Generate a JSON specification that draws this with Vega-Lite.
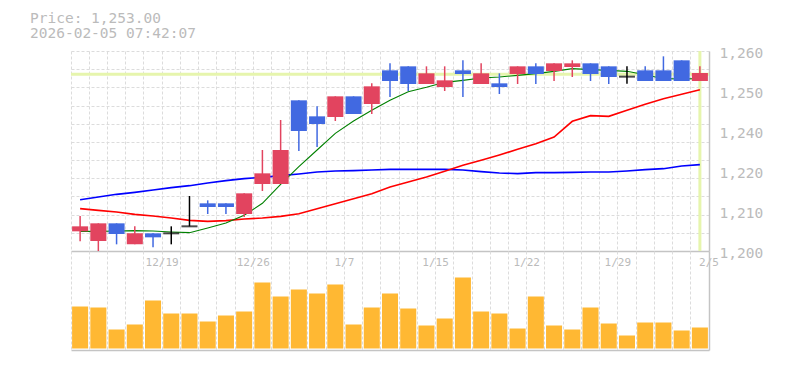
{
  "$schema": "https://vega.github.io/schema/vega-lite/v6.json",
  "padding": {"left": 30, "top": 10, "right": 5, "bottom": 5},
  "background": "white",
  "config": {
    "view": {"stroke": null},
    "axis": {"title": null},
    "font": "DejaVu Sans Mono"
  },
  "title": {
    "text": ["Price: 1,253.00", "2026-02-05 07:42:07"],
    "anchor": "start",
    "frame": "group",
    "font": "DejaVu Sans Mono",
    "fontSize": 14.5,
    "fontWeight": "normal",
    "color": "#bbbbbb",
    "lineHeight": 15,
    "dx": -41,
    "offset": 4
  },
  "data": {
    "values": [
      {"date": "2025-12-15", "open": 1205.9, "high": 1210.5, "low": 1202.9, "close": 1207.4, "volume": 42000, "ma5": 1205.9, "ma25": 1212.7, "ma75": 1215.4},
      {"date": "2025-12-16", "open": 1203.0, "high": 1208.3, "low": 1200.0, "close": 1208.3, "volume": 41000, "ma5": 1205.9, "ma25": 1212.2, "ma75": 1216.2},
      {"date": "2025-12-17", "open": 1208.3, "high": 1208.3, "low": 1202.0, "close": 1205.1, "volume": 19000, "ma5": 1206.0, "ma25": 1211.7, "ma75": 1217.0},
      {"date": "2025-12-18", "open": 1202.0, "high": 1207.4, "low": 1202.0, "close": 1205.3, "volume": 24000, "ma5": 1206.1, "ma25": 1211.0, "ma75": 1217.6},
      {"date": "2025-12-19", "open": 1205.3, "high": 1205.3, "low": 1201.1, "close": 1204.1, "volume": 48000, "ma5": 1206.0, "ma25": 1210.5, "ma75": 1218.3},
      {"date": "2025-12-22", "open": 1205.3, "high": 1207.4, "low": 1202.0, "close": 1205.3, "volume": 35000, "ma5": 1205.7, "ma25": 1209.9, "ma75": 1219.0},
      {"date": "2025-12-23", "open": 1207.4, "high": 1216.5, "low": 1207.4, "close": 1207.4, "volume": 35000, "ma5": 1205.5, "ma25": 1209.2, "ma75": 1219.6},
      {"date": "2025-12-24", "open": 1214.3, "high": 1215.2, "low": 1211.1, "close": 1213.2, "volume": 27000, "ma5": 1206.9, "ma25": 1208.9, "ma75": 1220.4},
      {"date": "2025-12-25", "open": 1214.3, "high": 1214.3, "low": 1211.1, "close": 1213.2, "volume": 33000, "ma5": 1208.4, "ma25": 1209.1, "ma75": 1221.1},
      {"date": "2025-12-26", "open": 1211.1, "high": 1217.3, "low": 1210.2, "close": 1217.3, "volume": 37000, "ma5": 1210.7, "ma25": 1209.6, "ma75": 1221.7},
      {"date": "2025-12-29", "open": 1220.1, "high": 1230.3, "low": 1218.0, "close": 1223.3, "volume": 66000, "ma5": 1214.3, "ma25": 1209.9, "ma75": 1222.1},
      {"date": "2025-12-30", "open": 1220.1, "high": 1239.3, "low": 1220.1, "close": 1230.3, "volume": 52000, "ma5": 1220.0, "ma25": 1210.4, "ma75": 1222.6},
      {"date": "2026-01-05", "open": 1245.2, "high": 1245.2, "low": 1230.0, "close": 1236.0, "volume": 59000, "ma5": 1225.3, "ma25": 1211.2, "ma75": 1223.1},
      {"date": "2026-01-06", "open": 1240.4, "high": 1243.4, "low": 1231.2, "close": 1238.1, "volume": 55000, "ma5": 1230.3, "ma25": 1212.7, "ma75": 1223.7},
      {"date": "2026-01-07", "open": 1240.2, "high": 1246.4, "low": 1239.0, "close": 1246.4, "volume": 64000, "ma5": 1235.3, "ma25": 1214.2, "ma75": 1224.0},
      {"date": "2026-01-08", "open": 1246.4, "high": 1246.4, "low": 1241.1, "close": 1241.1, "volume": 24000, "ma5": 1239.0, "ma25": 1215.7, "ma75": 1224.1},
      {"date": "2026-01-09", "open": 1244.1, "high": 1250.3, "low": 1241.1, "close": 1249.4, "volume": 41000, "ma5": 1242.2, "ma25": 1217.2, "ma75": 1224.3},
      {"date": "2026-01-13", "open": 1254.2, "high": 1256.3, "low": 1246.2, "close": 1251.0, "volume": 55000, "ma5": 1245.2, "ma25": 1219.2, "ma75": 1224.5},
      {"date": "2026-01-14", "open": 1255.4, "high": 1255.4, "low": 1248.0, "close": 1250.1, "volume": 40000, "ma5": 1247.8, "ma25": 1220.7, "ma75": 1224.5},
      {"date": "2026-01-15", "open": 1250.1, "high": 1255.4, "low": 1250.1, "close": 1253.3, "volume": 23000, "ma5": 1249.1, "ma25": 1222.2, "ma75": 1224.5},
      {"date": "2026-01-16", "open": 1249.2, "high": 1255.4, "low": 1248.0, "close": 1251.2, "volume": 30000, "ma5": 1250.6, "ma25": 1223.9, "ma75": 1224.5},
      {"date": "2026-01-19", "open": 1254.2, "high": 1257.2, "low": 1246.2, "close": 1253.1, "volume": 71000, "ma5": 1251.2, "ma25": 1225.7, "ma75": 1224.3},
      {"date": "2026-01-20", "open": 1250.1, "high": 1256.3, "low": 1250.1, "close": 1253.3, "volume": 37000, "ma5": 1251.9, "ma25": 1227.2, "ma75": 1223.8},
      {"date": "2026-01-21", "open": 1250.3, "high": 1253.3, "low": 1247.1, "close": 1249.2, "volume": 35000, "ma5": 1252.2, "ma25": 1228.8, "ma75": 1223.4},
      {"date": "2026-01-22", "open": 1253.1, "high": 1255.4, "low": 1250.1, "close": 1255.4, "volume": 20000, "ma5": 1252.7, "ma25": 1230.5, "ma75": 1223.2},
      {"date": "2026-01-23", "open": 1255.4, "high": 1256.3, "low": 1250.1, "close": 1253.1, "volume": 52000, "ma5": 1253.2, "ma25": 1232.2, "ma75": 1223.5},
      {"date": "2026-01-26", "open": 1254.0, "high": 1256.3, "low": 1251.0, "close": 1256.3, "volume": 23000, "ma5": 1253.9, "ma25": 1234.2, "ma75": 1223.5},
      {"date": "2026-01-27", "open": 1255.2, "high": 1257.2, "low": 1252.2, "close": 1256.3, "volume": 19000, "ma5": 1254.7, "ma25": 1238.9, "ma75": 1223.6},
      {"date": "2026-01-28", "open": 1256.3, "high": 1256.3, "low": 1251.0, "close": 1253.1, "volume": 41000, "ma5": 1254.4, "ma25": 1240.6, "ma75": 1223.7},
      {"date": "2026-01-29", "open": 1255.4, "high": 1255.4, "low": 1250.1, "close": 1252.2, "volume": 25000, "ma5": 1254.2, "ma25": 1240.4, "ma75": 1223.7},
      {"date": "2026-01-30", "open": 1252.3, "high": 1255.4, "low": 1250.2, "close": 1252.3, "volume": 13000, "ma5": 1253.9, "ma25": 1242.2, "ma75": 1224.0},
      {"date": "2026-02-02", "open": 1254.2, "high": 1255.4, "low": 1251.0, "close": 1251.0, "volume": 26000, "ma5": 1252.9, "ma25": 1244.0, "ma75": 1224.4},
      {"date": "2026-02-03", "open": 1254.2, "high": 1258.4, "low": 1251.0, "close": 1251.0, "volume": 26000, "ma5": 1251.7, "ma25": 1245.7, "ma75": 1224.7},
      {"date": "2026-02-04", "open": 1257.2, "high": 1257.2, "low": 1251.0, "close": 1251.0, "volume": 18000, "ma5": 1251.6, "ma25": 1247.0, "ma75": 1225.5},
      {"date": "2026-02-05", "open": 1251.0, "high": 1255.4, "low": 1251.0, "close": 1253.4, "volume": 21000, "ma5": 1251.7, "ma25": 1248.4, "ma75": 1225.9}
    ]
  },
  "spacing": 0,
  "bounds": "flush",
  "vconcat": [
    {
      "width": 638,
      "height": 200,
      "layer": [
        {
          "data": {"values": [{"price": 1253}]},
          "mark": {"type": "rule", "color": "#e6f5ad", "strokeWidth": 3},
          "encoding": {
            "y": {
              "field": "price", "type": "quantitative",
              "scale": {"domain": [1200, 1260], "nice": false, "zero": false},
              "axis": {
                "orient": "left",
                "values": [1200, 1205.4545, 1210.9091, 1216.3636, 1221.8182, 1227.2727, 1232.7273, 1238.1818, 1243.6364, 1249.0909, 1254.5455, 1260],
                "tickCount": 30,
                "labels": false, "ticks": false, "tickSize": 0, "domain": false,
                "minExtent": 0, "maxExtent": 0,
                "grid": true, "gridColor": "#dcdcdc", "gridDash": [3, 2], "gridWidth": 1
              }
            }
          }
        },
        {
          "encoding": {
            "x": {
              "field": "date", "type": "ordinal",
              "scale": {"type": "band", "paddingInner": 0, "paddingOuter": 0},
              "axis": {
                "orient": "bottom", "labels": false, "ticks": false, "tickSize": 0,
                "minExtent": 0, "maxExtent": 0,
                "domain": true, "domainColor": "#c4c4c4", "domainWidth": 1.5,
                "grid": true, "gridColor": "#dcdcdc", "gridDash": [3, 2], "gridWidth": 1,
                "bandPosition": 0
              }
            }
          },
          "layer": [
            {
              "data": {"values": [{"date": "2026-02-05", "price": 1253}]},
              "mark": {"type": "rule", "color": "#e6f5ad", "strokeWidth": 3},
              "encoding": {}
            },
            {
              "mark": {"type": "line", "color": "#0000ff", "strokeWidth": 1.6},
              "encoding": {
                "y": {
                  "field": "ma75", "type": "quantitative",
                  "scale": {"domain": [1200, 1260], "nice": false, "zero": false},
                  "axis": {
                    "orient": "right",
                    "values": [1200, 1212, 1224, 1236, 1248, 1260],
                    "tickCount": 30,
                    "labelExpr": "format(round(datum.value / 10) * 10, ',')",
                    "grid": false, "ticks": false, "tickSize": 0,
                    "domain": true, "domainColor": "#c4c4c4", "domainWidth": 1.5,
                    "labelPadding": 10, "labelOffset": 2,
                    "labelOverlap": false, "labelFlush": false, "labelBound": false,
                    "labelColor": "#bbbbbb", "labelFont": "DejaVu Sans Mono", "labelFontSize": 14.5,
                    "labelAlign": "left", "labelBaseline": "middle"
                  }
                }
              }
            },
            {
              "mark": {"type": "line", "color": "#ff0000", "strokeWidth": 1.6},
              "encoding": {"y": {"field": "ma25", "type": "quantitative"}}
            },
            {
              "mark": {"type": "line", "color": "#008000", "strokeWidth": 1.1},
              "encoding": {"y": {"field": "ma5", "type": "quantitative"}}
            },
            {
              "mark": {"type": "rule", "strokeWidth": 1.5},
              "encoding": {
                "y": {"field": "low", "type": "quantitative"},
                "y2": {"field": "high"},
                "color": {
                  "condition": [
                    {"test": "datum.close > datum.open", "value": "#e2445f"},
                    {"test": "datum.close < datum.open", "value": "#4169e1"}
                  ],
                  "value": "#000000"
                }
              }
            },
            {
              "transform": [{"filter": "datum.open != datum.close"}],
              "mark": {"type": "bar", "width": {"band": 0.88}},
              "encoding": {
                "y": {"field": "open", "type": "quantitative"},
                "y2": {"field": "close"},
                "color": {
                  "condition": {"test": "datum.close > datum.open", "value": "#e2445f"},
                  "value": "#4169e1"
                }
              }
            },
            {
              "transform": [{"filter": "datum.open == datum.close"}],
              "mark": {"type": "tick", "color": "#000000", "thickness": 2, "size": 16},
              "encoding": {"y": {"field": "close", "type": "quantitative"}}
            }
          ]
        }
      ],
      "resolve": {"axis": {"y": "independent"}}
    },
    {
      "width": 638,
      "height": 99,
      "mark": {"type": "bar", "color": "#ffb833", "width": {"band": 0.88}},
      "encoding": {
        "x": {
          "field": "date", "type": "ordinal",
          "scale": {"type": "band", "paddingInner": 0, "paddingOuter": 0},
          "axis": {
            "orient": "bottom", "ticks": false, "tickSize": 0,
            "minExtent": 0, "maxExtent": 0,
            "domain": true, "domainColor": "#c4c4c4", "domainWidth": 1.5,
            "grid": true, "gridColor": "#dcdcdc", "gridDash": [3, 2], "gridWidth": 1,
            "bandPosition": 0,
            "labelExpr": "indexof(['2025-12-19','2025-12-26','2026-01-07','2026-01-15','2026-01-22','2026-01-29','2026-02-05'], datum.value) >= 0 ? (toNumber(substring(datum.value, 5, 7)) + '/' + toNumber(substring(datum.value, 8, 10))) : ''",
            "labelOffset": 9.11, "labelPadding": -85, "labelBaseline": "alphabetic",
            "labelAngle": 0, "labelOverlap": false,
            "labelColor": "#bbbbbb", "labelFont": "DejaVu Sans Mono", "labelFontSize": 11
          }
        },
        "y": {
          "field": "volume", "type": "quantitative",
          "scale": {"domain": [-1500, 97500], "nice": false, "zero": false},
          "axis": {
            "orient": "right", "labels": false, "ticks": false, "tickSize": 0, "grid": false,
            "minExtent": 0,
            "domain": true, "domainColor": "#c4c4c4", "domainWidth": 1.5
          }
        }
      }
    }
  ]
}
